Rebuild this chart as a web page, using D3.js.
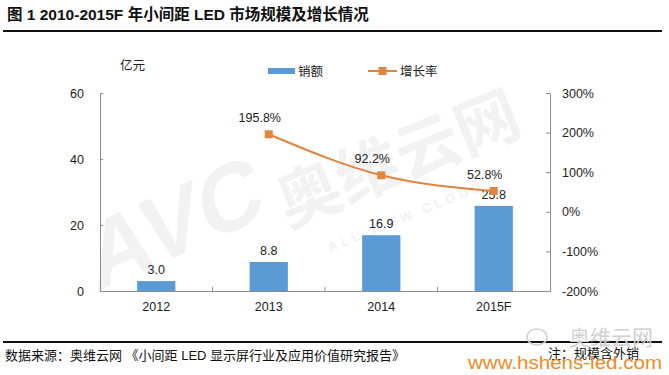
<!DOCTYPE html>
<html>
<head>
<meta charset="utf-8">
<script src="https://cdn.jsdelivr.net/npm/d3@7"></script>
<style>
  body { margin: 0; background: #fff; }
  text { font-family: "Liberation Sans", Arial, "Noto Sans CJK SC", sans-serif; }
</style>
</head>
<body>
<svg id="chart"></svg>
<script>
// data
const years = ["2012", "2013", "2014", "2015F"];
const sales = [3.0, 8.8, 16.9, 25.8];           // 亿元
const growthYears = ["2013", "2014", "2015F"];
const growth = [1.958, 0.922, 0.528];            // 增长率
const leftTicks = [0, 20, 40, 60];
const rightTicks = [-2, -1, 0, 1, 2, 3];

const W = 669, H = 375;
const margin = {top: 93, right: 119, bottom: 84, left: 100};
const width = W - margin.left - margin.right;
const height = H - margin.top - margin.bottom;

const svg = d3.select('#chart').attr('width', W).attr('height', H);

// watermark
const wm = svg.append('g').attr('fill', '#f2f2f2');
wm.append('text')
    .attr('transform', 'translate(96,292) rotate(-24) skewX(-12)')
    .attr('font-size', 92).attr('font-weight', 'bold')
    .text('AVC');
wm.append('text')
    .attr('transform', 'translate(288,228) rotate(-22)')
    .attr('font-size', 64).attr('font-weight', 'bold')
    .attr('font-family', '"Noto Sans CJK SC", sans-serif')
    .text('奥维云网');
wm.append('text')
    .attr('transform', 'translate(330,252) rotate(-22)')
    .attr('font-size', 13).attr('font-weight', 'bold').attr('letter-spacing', 4)
    .text('ALL VIEW CLOUD');

// title
svg.append('text')
    .attr('x', 7).attr('y', 20)
    .attr('font-size', 15.5).attr('font-weight', 'bold').attr('fill', '#111')
    .text('图 1 2010-2015F 年小间距 LED 市场规模及增长情况');
svg.append('line')
    .attr('x1', 3).attr('x2', 662).attr('y1', 31).attr('y2', 31)
    .attr('stroke', '#111').attr('stroke-width', 2);

const chart = svg.append('g')
    .attr('transform', `translate(${margin.left},${margin.top})`);

// scales
const xScale = d3.scaleBand().domain(years).range([0, width]).paddingInner(0.66).paddingOuter(0.33);
const xBand = d3.scaleBand().domain(years).range([0, width]);
const yScale = d3.scaleLinear().domain([0, 60]).range([height, 0]);
const yRight = d3.scaleLinear().domain([-2, 3]).range([height, 0]);

// axes
const xAxis = d3.axisBottom(xBand).tickSize(0).tickPadding(11);
const yAxis = d3.axisLeft(yScale).tickValues(leftTicks).tickSize(0).tickPadding(16);
const yAxisR = d3.axisRight(yRight).tickValues(rightTicks).tickSize(0).tickPadding(12)
    .tickFormat(d => Math.round(d * 100) + '%');

const axisColor = '#8c8c8c';

chart.append('g')
    .attr('transform', `translate(0,${height})`)
    .call(xAxis)
    .call(g => g.select('.domain').attr('stroke', axisColor))
    .call(g => g.selectAll('text').attr('font-size', 12.5).attr('fill', '#222'));

// inside ticks between categories
chart.append('g').selectAll('line')
    .data(years.slice(1))
    .join('line')
    .attr('x1', d => xBand(d)).attr('x2', d => xBand(d))
    .attr('y1', height).attr('y2', height - 4)
    .attr('stroke', axisColor);

chart.append('g')
    .call(yAxis)
    .call(g => g.select('.domain').attr('stroke', axisColor))
    .call(g => g.selectAll('.tick line').attr('x2', 3).attr('stroke', axisColor))
    .call(g => g.selectAll('text').attr('font-size', 12.5).attr('fill', '#222'));

chart.append('g')
    .attr('transform', `translate(${width},0)`)
    .call(yAxisR)
    .call(g => g.select('.domain').attr('stroke', axisColor))
    .call(g => g.selectAll('.tick line').attr('x2', -4).attr('stroke', axisColor))
    .call(g => g.selectAll('text').attr('font-size', 12.5).attr('fill', '#222'));

// bars
const barColor = '#5b9bd5';
chart.selectAll('.bar')
    .data(sales)
    .join('rect')
    .attr('class', 'bar')
    .attr('x', (d, i) => xScale(years[i]))
    .attr('width', xScale.bandwidth())
    .attr('y', d => yScale(d))
    .attr('height', d => yScale(0) - yScale(d))
    .attr('fill', barColor);

chart.selectAll('.bar-label')
    .data(sales)
    .join('text')
    .attr('class', 'bar-label')
    .attr('x', (d, i) => xScale(years[i]) + xScale.bandwidth() / 2)
    .attr('y', d => yScale(d) - 7)
    .attr('text-anchor', 'middle')
    .attr('font-size', 12.5).attr('fill', '#222')
    .text(d => d.toFixed(1));

// growth line
const lineColor = '#e0853f';
const cx = d => xBand(d) + xBand.bandwidth() / 2;
const line = d3.line()
    .x((d, i) => cx(growthYears[i]))
    .y(d => yRight(d))
    .curve(d3.curveMonotoneX);

chart.append('path')
    .datum(growth)
    .attr('d', line)
    .attr('fill', 'none')
    .attr('stroke', lineColor)
    .attr('stroke-width', 2);

chart.selectAll('.marker')
    .data(growth)
    .join('rect')
    .attr('class', 'marker')
    .attr('x', (d, i) => cx(growthYears[i]) - 4)
    .attr('y', d => yRight(d) - 4)
    .attr('width', 8).attr('height', 8)
    .attr('fill', lineColor);

chart.selectAll('.growth-label')
    .data(growth)
    .join('text')
    .attr('class', 'growth-label')
    .attr('x', (d, i) => cx(growthYears[i]) - 9)
    .attr('y', d => yRight(d) - 12)
    .attr('text-anchor', 'middle')
    .attr('font-size', 12.5).attr('fill', '#222')
    .text(d => (d * 100).toFixed(1) + '%');

// unit + legend
svg.append('text')
    .attr('x', 120).attr('y', 70)
    .attr('font-size', 12.5).attr('fill', '#222')
    .text('亿元');

const legend = svg.append('g').attr('font-size', 12.5).attr('fill', '#222');
legend.append('rect').attr('x', 268).attr('y', 68).attr('width', 27).attr('height', 6).attr('fill', barColor);
legend.append('text').attr('x', 298).attr('y', 76).text('销额');
legend.append('line').attr('x1', 368).attr('x2', 397).attr('y1', 71).attr('y2', 71)
    .attr('stroke', lineColor).attr('stroke-width', 2);
legend.append('rect').attr('x', 378.5).attr('y', 67).attr('width', 8).attr('height', 8).attr('fill', lineColor);
legend.append('text').attr('x', 400).attr('y', 76).text('增长率');

// footer
svg.append('line')
    .attr('x1', 3).attr('x2', 662).attr('y1', 342).attr('y2', 342)
    .attr('stroke', '#111').attr('stroke-width', 2);
// wechat badge watermark
svg.append('ellipse')
    .attr('cx', 537).attr('cy', 337).attr('rx', 10).attr('ry', 8)
    .attr('fill', 'none').attr('stroke', '#d0d0d0').attr('stroke-width', 1.5);
svg.append('text')
    .attr('x', 653).attr('y', 345)
    .attr('text-anchor', 'end')
    .attr('font-size', 21).attr('fill', '#cfcfcf')
    .attr('font-family', '"Noto Sans CJK SC", sans-serif')
    .text('奥维云网');
svg.append('text')
    .attr('x', 5).attr('y', 360)
    .attr('font-size', 13).attr('fill', '#111')
    .text('数据来源：奥维云网 《小间距 LED 显示屏行业及应用价值研究报告》');
svg.append('text')
    .attr('x', 548).attr('y', 358)
    .attr('font-size', 13).attr('fill', '#111')
    .text('注：规模含外销');
svg.append('text')
    .attr('x', 468).attr('y', 369)
    .attr('font-size', 19).attr('fill', '#f08a24')
    .attr('textLength', 194).attr('lengthAdjust', 'spacingAndGlyphs')
    .text('www.hshens-led.com');
</script>
</body>
</html>
